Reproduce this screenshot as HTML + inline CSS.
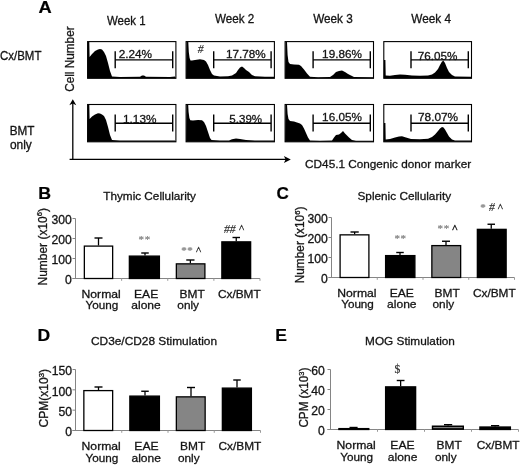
<!DOCTYPE html>
<html><head><meta charset="utf-8"><title>Figure</title>
<style>html,body{margin:0;padding:0;background:#fff}svg{display:block;will-change:transform;transform:translateZ(0)}</style></head>
<body><svg width="520" height="465" viewBox="0 0 520 465">
<rect width="520" height="465" fill="#fff"/>
<text transform="translate(38.54,12.50) scale(1.0755,1)" font-family='"Liberation Sans", Arial, Helvetica, sans-serif' font-size="17" font-weight="bold" fill="#000" stroke="#000" stroke-width="0.2">A</text>
<text transform="translate(-0.07,60.00) scale(0.9347,1)" font-family='"Liberation Sans", Arial, Helvetica, sans-serif' font-size="12.3" fill="#141414" stroke="#141414" stroke-width="0.3">Cx/BMT</text>
<text transform="translate(9.76,135.00) scale(0.9867,1)" font-family='"Liberation Sans", Arial, Helvetica, sans-serif' font-size="11.9" fill="#141414" stroke="#141414" stroke-width="0.3">BMT</text>
<text transform="translate(9.92,149.30) scale(1.0046,1)" font-family='"Liberation Sans", Arial, Helvetica, sans-serif' font-size="11.9" fill="#141414" stroke="#141414" stroke-width="0.3">only</text>
<text transform="translate(106.94,24.70) scale(0.9320,1)" font-family='"Liberation Sans", Arial, Helvetica, sans-serif' font-size="12.3" fill="#141414" stroke="#141414" stroke-width="0.3">Week 1</text>
<text transform="translate(215.04,22.70) scale(0.9467,1)" font-family='"Liberation Sans", Arial, Helvetica, sans-serif' font-size="12.3" fill="#141414" stroke="#141414" stroke-width="0.3">Week 2</text>
<text transform="translate(313.14,22.70) scale(0.9550,1)" font-family='"Liberation Sans", Arial, Helvetica, sans-serif' font-size="12.3" fill="#141414" stroke="#141414" stroke-width="0.3">Week 3</text>
<text transform="translate(411.24,22.70) scale(0.9581,1)" font-family='"Liberation Sans", Arial, Helvetica, sans-serif' font-size="12.3" fill="#141414" stroke="#141414" stroke-width="0.3">Week 4</text>
<text transform="translate(73.60,91.79) rotate(-90) scale(0.9581,1)" font-family='"Liberation Sans", Arial, Helvetica, sans-serif' font-size="12.3" fill="#141414" stroke="#141414" stroke-width="0.3">Cell Number</text>
<text transform="translate(305.11,167.70) scale(0.9983,1)" font-family='"Liberation Sans", Arial, Helvetica, sans-serif' font-size="11.8" fill="#141414" stroke="#141414" stroke-width="0.3">CD45.1 Congenic donor marker</text>
<line x1="72.80" y1="159.40" x2="72.80" y2="103.00" stroke="#000" stroke-width="1.3"/>
<polygon points="72.8,99.2 69.3,105.2 72.8,103.6 76.3,105.2" fill="#000"/>
<line x1="69.60" y1="159.40" x2="286.00" y2="159.40" stroke="#000" stroke-width="1.3"/>
<polygon points="290.8,159.4 283.9,155.9 285.6,159.4 283.9,162.9" fill="#000"/>
<polygon points="87.6,78.3 88.0,42.0 89.3,42.0 89.6,57.0 92.0,54.0 95.0,51.0 98.0,49.5 100.0,49.0 102.0,49.5 104.0,52.0 106.0,56.0 108.0,63.0 110.0,71.0 112.0,76.5 120.0,77.0 140.0,76.8 142.0,75.6 144.0,75.6 146.0,76.8 170.0,77.0 175.0,76.6 175.9,78.3" fill="#000"/>
<polygon points="186.1,78.3 186.5,42.0 188.3,42.0 188.8,52.0 189.6,58.0 190.5,60.5 192.0,60.5 195.0,60.0 200.0,59.3 204.0,60.0 206.0,61.5 208.0,65.0 210.0,70.0 212.0,74.0 214.0,75.5 220.0,76.5 228.0,76.2 232.0,75.5 236.0,73.0 238.0,70.0 240.0,67.5 242.0,66.6 244.0,68.0 246.0,70.0 249.0,72.0 252.0,75.0 255.0,76.3 265.0,76.8 274.0,76.8 274.4,78.3" fill="#000"/>
<polygon points="285.1,78.3 285.5,42.0 287.0,42.0 287.6,55.0 288.5,62.0 290.0,64.0 294.0,64.5 299.0,64.8 301.0,66.0 304.0,69.5 307.0,73.5 310.0,76.8 318.0,77.2 330.0,77.0 333.0,75.0 336.0,72.0 339.0,71.0 342.0,70.6 345.0,72.0 348.0,74.0 351.0,75.5 354.0,77.0 373.0,77.2 373.5,78.3" fill="#000"/>
<polygon points="383.8,78.3 384.0,60.0 385.4,60.0 385.7,75.5 390.0,75.8 395.0,75.0 400.0,74.5 405.0,74.8 412.0,75.6 420.0,75.8 428.0,75.4 432.0,74.5 435.0,72.5 438.0,69.0 440.0,65.0 442.0,61.5 443.5,60.8 445.0,63.0 447.0,68.0 449.0,72.0 452.0,75.0 455.0,76.6 471.0,76.8 471.5,78.3" fill="#000"/>
<polygon points="87.6,141.8 88.0,104.5 89.3,104.5 89.6,119.0 92.0,116.5 95.0,114.5 98.0,113.2 100.0,113.4 102.0,114.5 104.0,116.0 106.0,120.0 108.0,127.0 110.0,135.0 112.0,140.0 120.0,140.6 175.0,140.6 175.9,141.8" fill="#000"/>
<polygon points="186.1,141.8 186.5,105.0 188.2,105.0 188.6,112.0 189.4,118.0 190.3,120.2 193.0,120.4 198.0,120.0 202.0,120.2 204.0,122.0 206.0,126.0 208.0,132.0 210.0,138.0 211.5,140.0 220.0,140.6 229.0,140.4 232.0,139.2 236.0,138.6 240.0,139.0 246.0,140.0 255.0,140.6 274.0,140.6 274.4,141.8" fill="#000"/>
<polygon points="285.1,141.8 285.5,104.5 287.0,104.5 287.6,114.0 288.5,119.0 290.0,121.0 294.0,121.5 297.0,122.5 300.0,123.5 302.0,125.0 304.0,128.5 306.0,133.0 308.0,137.5 310.0,140.4 320.0,140.8 332.0,140.6 334.0,137.5 336.0,135.0 339.0,134.4 341.0,133.0 343.0,131.0 345.0,133.5 347.0,135.5 349.0,137.5 352.0,140.0 356.0,140.8 373.0,140.8 373.5,141.8" fill="#000"/>
<polygon points="383.8,141.8 384.0,123.0 385.4,123.0 385.7,139.5 390.0,139.0 395.0,137.5 399.0,136.4 402.0,136.2 406.0,137.5 411.0,139.0 420.0,139.2 428.0,138.8 432.0,137.0 435.0,134.5 438.0,131.0 440.0,128.5 442.0,127.0 443.5,127.4 445.0,129.5 447.0,133.0 449.0,136.5 452.0,139.5 455.0,140.6 471.0,140.6 471.5,141.8" fill="#000"/>
<rect x="87.60" y="41.60" width="88.30" height="36.70" fill="none" stroke="#000" stroke-width="1.1"/>
<rect x="186.10" y="41.60" width="88.30" height="36.70" fill="none" stroke="#000" stroke-width="1.1"/>
<rect x="285.10" y="41.60" width="88.40" height="36.70" fill="none" stroke="#000" stroke-width="1.1"/>
<rect x="383.80" y="41.60" width="87.70" height="36.70" fill="none" stroke="#000" stroke-width="1.1"/>
<rect x="87.60" y="104.50" width="88.30" height="37.30" fill="none" stroke="#000" stroke-width="1.1"/>
<rect x="186.10" y="104.50" width="88.30" height="37.30" fill="none" stroke="#000" stroke-width="1.1"/>
<rect x="285.10" y="104.50" width="88.40" height="37.30" fill="none" stroke="#000" stroke-width="1.1"/>
<rect x="383.80" y="104.50" width="87.70" height="37.30" fill="none" stroke="#000" stroke-width="1.1"/>
<line x1="115.20" y1="59.90" x2="172.70" y2="59.90" stroke="#000" stroke-width="1.4"/>
<line x1="115.20" y1="51.30" x2="115.20" y2="68.20" stroke="#000" stroke-width="1.4"/>
<line x1="172.70" y1="51.30" x2="172.70" y2="68.20" stroke="#000" stroke-width="1.4"/>
<line x1="213.70" y1="59.90" x2="271.10" y2="59.90" stroke="#000" stroke-width="1.4"/>
<line x1="213.70" y1="51.30" x2="213.70" y2="68.20" stroke="#000" stroke-width="1.4"/>
<line x1="271.10" y1="51.30" x2="271.10" y2="68.20" stroke="#000" stroke-width="1.4"/>
<line x1="313.10" y1="59.90" x2="370.30" y2="59.90" stroke="#000" stroke-width="1.4"/>
<line x1="313.10" y1="51.30" x2="313.10" y2="68.20" stroke="#000" stroke-width="1.4"/>
<line x1="370.30" y1="51.30" x2="370.30" y2="68.20" stroke="#000" stroke-width="1.4"/>
<line x1="411.00" y1="59.90" x2="468.30" y2="59.90" stroke="#000" stroke-width="1.4"/>
<line x1="411.00" y1="51.30" x2="411.00" y2="68.20" stroke="#000" stroke-width="1.4"/>
<line x1="468.30" y1="51.30" x2="468.30" y2="68.20" stroke="#000" stroke-width="1.4"/>
<line x1="115.20" y1="123.20" x2="172.70" y2="123.20" stroke="#000" stroke-width="1.4"/>
<line x1="115.20" y1="114.40" x2="115.20" y2="131.40" stroke="#000" stroke-width="1.4"/>
<line x1="172.70" y1="114.40" x2="172.70" y2="131.40" stroke="#000" stroke-width="1.4"/>
<line x1="213.70" y1="123.20" x2="271.10" y2="123.20" stroke="#000" stroke-width="1.4"/>
<line x1="213.70" y1="114.40" x2="213.70" y2="131.40" stroke="#000" stroke-width="1.4"/>
<line x1="271.10" y1="114.40" x2="271.10" y2="131.40" stroke="#000" stroke-width="1.4"/>
<line x1="313.10" y1="123.20" x2="370.30" y2="123.20" stroke="#000" stroke-width="1.4"/>
<line x1="313.10" y1="114.40" x2="313.10" y2="131.40" stroke="#000" stroke-width="1.4"/>
<line x1="370.30" y1="114.40" x2="370.30" y2="131.40" stroke="#000" stroke-width="1.4"/>
<line x1="411.00" y1="123.20" x2="468.30" y2="123.20" stroke="#000" stroke-width="1.4"/>
<line x1="411.00" y1="114.40" x2="411.00" y2="131.40" stroke="#000" stroke-width="1.4"/>
<line x1="468.30" y1="114.40" x2="468.30" y2="131.40" stroke="#000" stroke-width="1.4"/>
<text transform="translate(118.71,57.60) scale(1.0335,1)" font-family='"Liberation Sans", Arial, Helvetica, sans-serif' font-size="11.4" fill="#141414" stroke="#141414" stroke-width="0.3">2.24%</text>
<text transform="translate(226.02,57.70) scale(1.0281,1)" font-family='"Liberation Sans", Arial, Helvetica, sans-serif' font-size="11.4" fill="#141414" stroke="#141414" stroke-width="0.3">17.78%</text>
<text transform="translate(322.12,57.70) scale(1.0307,1)" font-family='"Liberation Sans", Arial, Helvetica, sans-serif' font-size="11.4" fill="#141414" stroke="#141414" stroke-width="0.3">19.86%</text>
<text transform="translate(417.82,59.80) scale(1.0256,1)" font-family='"Liberation Sans", Arial, Helvetica, sans-serif' font-size="11.4" fill="#141414" stroke="#141414" stroke-width="0.3">76.05%</text>
<text transform="translate(123.01,122.90) scale(1.0365,1)" font-family='"Liberation Sans", Arial, Helvetica, sans-serif' font-size="11.4" fill="#141414" stroke="#141414" stroke-width="0.3">1.13%</text>
<text transform="translate(229.34,122.90) scale(1.0139,1)" font-family='"Liberation Sans", Arial, Helvetica, sans-serif' font-size="11.4" fill="#141414" stroke="#141414" stroke-width="0.3">5.39%</text>
<text transform="translate(322.12,121.20) scale(1.0307,1)" font-family='"Liberation Sans", Arial, Helvetica, sans-serif' font-size="11.4" fill="#141414" stroke="#141414" stroke-width="0.3">16.05%</text>
<text transform="translate(418.01,121.20) scale(1.0389,1)" font-family='"Liberation Sans", Arial, Helvetica, sans-serif' font-size="11.4" fill="#141414" stroke="#141414" stroke-width="0.3">78.07%</text>
<text transform="translate(38.35,199.30) scale(1.0415,1)" font-family='"Liberation Sans", Arial, Helvetica, sans-serif' font-size="17" font-weight="bold" fill="#000" stroke="#000" stroke-width="0.2">B</text>
<text transform="translate(103.26,200.40) scale(0.9967,1)" font-family='"Liberation Sans", Arial, Helvetica, sans-serif' font-size="11.8" fill="#141414" stroke="#141414" stroke-width="0.3">Thymic Cellularity</text>
<line x1="75.50" y1="218.50" x2="75.50" y2="278.50" stroke="#858585" stroke-width="1"/>
<line x1="72.50" y1="278.50" x2="260.00" y2="278.50" stroke="#858585" stroke-width="1"/>
<line x1="72.50" y1="278.50" x2="75.50" y2="278.50" stroke="#858585" stroke-width="1"/>
<text transform="translate(65.02,284.20) scale(1.0000,1)" font-family='"Liberation Sans", Arial, Helvetica, sans-serif' font-size="12.2" fill="#141414" stroke="#141414" stroke-width="0.3">0</text>
<line x1="72.50" y1="258.50" x2="75.50" y2="258.50" stroke="#858585" stroke-width="1"/>
<text transform="translate(51.48,264.20) scale(1.0000,1)" font-family='"Liberation Sans", Arial, Helvetica, sans-serif' font-size="12.2" fill="#141414" stroke="#141414" stroke-width="0.3">100</text>
<line x1="72.50" y1="238.50" x2="75.50" y2="238.50" stroke="#858585" stroke-width="1"/>
<text transform="translate(51.47,244.20) scale(1.0000,1)" font-family='"Liberation Sans", Arial, Helvetica, sans-serif' font-size="12.2" fill="#141414" stroke="#141414" stroke-width="0.3">200</text>
<line x1="72.50" y1="218.50" x2="75.50" y2="218.50" stroke="#858585" stroke-width="1"/>
<text transform="translate(51.47,224.20) scale(1.0000,1)" font-family='"Liberation Sans", Arial, Helvetica, sans-serif' font-size="12.2" fill="#141414" stroke="#141414" stroke-width="0.3">300</text>
<line x1="121.62" y1="278.50" x2="121.62" y2="280.80" stroke="#999" stroke-width="1"/>
<line x1="167.75" y1="278.50" x2="167.75" y2="280.80" stroke="#999" stroke-width="1"/>
<line x1="213.88" y1="278.50" x2="213.88" y2="280.80" stroke="#999" stroke-width="1"/>
<line x1="260.00" y1="278.50" x2="260.00" y2="280.80" stroke="#999" stroke-width="1"/>
<line x1="98.50" y1="238.00" x2="98.50" y2="245.50" stroke="#000" stroke-width="1.3"/>
<line x1="94.50" y1="238.00" x2="102.50" y2="238.00" stroke="#000" stroke-width="1.4"/>
<rect x="84.35" y="246.10" width="28.30" height="32.40" fill="#fff" stroke="#000" stroke-width="1.3"/>
<line x1="145.00" y1="253.00" x2="145.00" y2="255.50" stroke="#000" stroke-width="1.3"/>
<line x1="141.25" y1="253.00" x2="148.75" y2="253.00" stroke="#000" stroke-width="1.4"/>
<rect x="129.35" y="256.10" width="30.05" height="22.40" fill="#000" stroke="#000" stroke-width="1.3"/>
<line x1="190.38" y1="260.00" x2="190.38" y2="263.25" stroke="#000" stroke-width="1.3"/>
<line x1="186.25" y1="260.00" x2="194.50" y2="260.00" stroke="#000" stroke-width="1.4"/>
<rect x="176.35" y="263.85" width="28.55" height="14.65" fill="#858585" stroke="#000" stroke-width="1.3"/>
<line x1="236.25" y1="237.50" x2="236.25" y2="241.25" stroke="#000" stroke-width="1.3"/>
<line x1="232.50" y1="237.50" x2="240.00" y2="237.50" stroke="#000" stroke-width="1.4"/>
<rect x="221.85" y="241.85" width="28.80" height="36.65" fill="#000" stroke="#000" stroke-width="1.3"/>
<text transform="translate(276.62,199.40) scale(1.0058,1)" font-family='"Liberation Sans", Arial, Helvetica, sans-serif' font-size="17" font-weight="bold" fill="#000" stroke="#000" stroke-width="0.2">C</text>
<text transform="translate(357.47,200.30) scale(0.9998,1)" font-family='"Liberation Sans", Arial, Helvetica, sans-serif' font-size="11.8" fill="#141414" stroke="#141414" stroke-width="0.3">Splenic Cellularity</text>
<line x1="331.50" y1="217.50" x2="331.50" y2="277.50" stroke="#858585" stroke-width="1"/>
<line x1="328.50" y1="277.50" x2="514.50" y2="277.50" stroke="#858585" stroke-width="1"/>
<line x1="328.50" y1="277.50" x2="331.50" y2="277.50" stroke="#858585" stroke-width="1"/>
<text transform="translate(321.02,283.20) scale(1.0000,1)" font-family='"Liberation Sans", Arial, Helvetica, sans-serif' font-size="12.2" fill="#141414" stroke="#141414" stroke-width="0.3">0</text>
<line x1="328.50" y1="257.50" x2="331.50" y2="257.50" stroke="#858585" stroke-width="1"/>
<text transform="translate(307.47,263.20) scale(1.0000,1)" font-family='"Liberation Sans", Arial, Helvetica, sans-serif' font-size="12.2" fill="#141414" stroke="#141414" stroke-width="0.3">100</text>
<line x1="328.50" y1="237.50" x2="331.50" y2="237.50" stroke="#858585" stroke-width="1"/>
<text transform="translate(307.48,243.20) scale(1.0000,1)" font-family='"Liberation Sans", Arial, Helvetica, sans-serif' font-size="12.2" fill="#141414" stroke="#141414" stroke-width="0.3">200</text>
<line x1="328.50" y1="217.50" x2="331.50" y2="217.50" stroke="#858585" stroke-width="1"/>
<text transform="translate(307.48,223.20) scale(1.0000,1)" font-family='"Liberation Sans", Arial, Helvetica, sans-serif' font-size="12.2" fill="#141414" stroke="#141414" stroke-width="0.3">300</text>
<line x1="377.25" y1="277.50" x2="377.25" y2="279.80" stroke="#999" stroke-width="1"/>
<line x1="423.00" y1="277.50" x2="423.00" y2="279.80" stroke="#999" stroke-width="1"/>
<line x1="468.75" y1="277.50" x2="468.75" y2="279.80" stroke="#999" stroke-width="1"/>
<line x1="514.50" y1="277.50" x2="514.50" y2="279.80" stroke="#999" stroke-width="1"/>
<line x1="354.62" y1="232.00" x2="354.62" y2="234.25" stroke="#000" stroke-width="1.3"/>
<line x1="350.50" y1="232.00" x2="358.75" y2="232.00" stroke="#000" stroke-width="1.4"/>
<rect x="340.10" y="234.85" width="28.80" height="42.65" fill="#fff" stroke="#000" stroke-width="1.3"/>
<line x1="400.00" y1="252.50" x2="400.00" y2="255.00" stroke="#000" stroke-width="1.3"/>
<line x1="396.25" y1="252.50" x2="403.75" y2="252.50" stroke="#000" stroke-width="1.4"/>
<rect x="385.60" y="255.60" width="29.30" height="21.90" fill="#000" stroke="#000" stroke-width="1.3"/>
<line x1="446.00" y1="241.25" x2="446.00" y2="245.00" stroke="#000" stroke-width="1.3"/>
<line x1="442.00" y1="241.25" x2="450.00" y2="241.25" stroke="#000" stroke-width="1.4"/>
<rect x="431.85" y="245.60" width="28.80" height="31.90" fill="#858585" stroke="#000" stroke-width="1.3"/>
<line x1="491.25" y1="224.25" x2="491.25" y2="228.75" stroke="#000" stroke-width="1.3"/>
<line x1="487.50" y1="224.25" x2="495.00" y2="224.25" stroke="#000" stroke-width="1.4"/>
<rect x="477.35" y="229.35" width="28.80" height="48.15" fill="#000" stroke="#000" stroke-width="1.3"/>
<text transform="translate(37.46,340.50) scale(1.0330,1)" font-family='"Liberation Sans", Arial, Helvetica, sans-serif' font-size="17" font-weight="bold" fill="#000" stroke="#000" stroke-width="0.2">D</text>
<text transform="translate(91.01,345.10) scale(1.0073,1)" font-family='"Liberation Sans", Arial, Helvetica, sans-serif' font-size="11.8" fill="#141414" stroke="#141414" stroke-width="0.3">CD3e/CD28 Stimulation</text>
<line x1="75.50" y1="369.50" x2="75.50" y2="430.50" stroke="#858585" stroke-width="1"/>
<line x1="72.50" y1="430.50" x2="260.50" y2="430.50" stroke="#858585" stroke-width="1"/>
<line x1="72.50" y1="430.50" x2="75.50" y2="430.50" stroke="#858585" stroke-width="1"/>
<text transform="translate(65.32,436.20) scale(1.0000,1)" font-family='"Liberation Sans", Arial, Helvetica, sans-serif' font-size="12.2" fill="#141414" stroke="#141414" stroke-width="0.3">0</text>
<line x1="72.50" y1="410.17" x2="75.50" y2="410.17" stroke="#858585" stroke-width="1"/>
<text transform="translate(58.55,415.87) scale(1.0000,1)" font-family='"Liberation Sans", Arial, Helvetica, sans-serif' font-size="12.2" fill="#141414" stroke="#141414" stroke-width="0.3">50</text>
<line x1="72.50" y1="389.83" x2="75.50" y2="389.83" stroke="#858585" stroke-width="1"/>
<text transform="translate(51.77,395.53) scale(1.0000,1)" font-family='"Liberation Sans", Arial, Helvetica, sans-serif' font-size="12.2" fill="#141414" stroke="#141414" stroke-width="0.3">100</text>
<line x1="72.50" y1="369.50" x2="75.50" y2="369.50" stroke="#858585" stroke-width="1"/>
<text transform="translate(51.77,375.20) scale(1.0000,1)" font-family='"Liberation Sans", Arial, Helvetica, sans-serif' font-size="12.2" fill="#141414" stroke="#141414" stroke-width="0.3">150</text>
<line x1="121.75" y1="430.50" x2="121.75" y2="432.80" stroke="#999" stroke-width="1"/>
<line x1="168.00" y1="430.50" x2="168.00" y2="432.80" stroke="#999" stroke-width="1"/>
<line x1="214.25" y1="430.50" x2="214.25" y2="432.80" stroke="#999" stroke-width="1"/>
<line x1="260.50" y1="430.50" x2="260.50" y2="432.80" stroke="#999" stroke-width="1"/>
<line x1="98.50" y1="387.00" x2="98.50" y2="390.00" stroke="#000" stroke-width="1.3"/>
<line x1="94.50" y1="387.00" x2="102.50" y2="387.00" stroke="#000" stroke-width="1.4"/>
<rect x="83.85" y="390.60" width="28.80" height="39.90" fill="#fff" stroke="#000" stroke-width="1.3"/>
<line x1="145.00" y1="391.25" x2="145.00" y2="395.50" stroke="#000" stroke-width="1.3"/>
<line x1="141.25" y1="391.25" x2="148.75" y2="391.25" stroke="#000" stroke-width="1.4"/>
<rect x="129.85" y="396.10" width="29.55" height="34.40" fill="#000" stroke="#000" stroke-width="1.3"/>
<line x1="191.00" y1="387.50" x2="191.00" y2="396.25" stroke="#000" stroke-width="1.3"/>
<line x1="187.00" y1="387.50" x2="195.00" y2="387.50" stroke="#000" stroke-width="1.4"/>
<rect x="176.35" y="396.85" width="28.80" height="33.65" fill="#858585" stroke="#000" stroke-width="1.3"/>
<line x1="237.00" y1="380.00" x2="237.00" y2="387.50" stroke="#000" stroke-width="1.3"/>
<line x1="233.25" y1="380.00" x2="240.75" y2="380.00" stroke="#000" stroke-width="1.4"/>
<rect x="222.35" y="388.10" width="29.05" height="42.40" fill="#000" stroke="#000" stroke-width="1.3"/>
<text transform="translate(275.36,340.60) scale(1.0307,1)" font-family='"Liberation Sans", Arial, Helvetica, sans-serif' font-size="17" font-weight="bold" fill="#000" stroke="#000" stroke-width="0.2">E</text>
<text transform="translate(365.05,345.10) scale(1.0013,1)" font-family='"Liberation Sans", Arial, Helvetica, sans-serif' font-size="11.8" fill="#141414" stroke="#141414" stroke-width="0.3">MOG Stimulation</text>
<line x1="330.50" y1="369.50" x2="330.50" y2="429.50" stroke="#858585" stroke-width="1"/>
<line x1="327.50" y1="429.50" x2="518.50" y2="429.50" stroke="#858585" stroke-width="1"/>
<line x1="327.50" y1="429.50" x2="330.50" y2="429.50" stroke="#858585" stroke-width="1"/>
<text transform="translate(318.02,435.20) scale(1.0000,1)" font-family='"Liberation Sans", Arial, Helvetica, sans-serif' font-size="12.2" fill="#141414" stroke="#141414" stroke-width="0.3">0</text>
<line x1="327.50" y1="409.50" x2="330.50" y2="409.50" stroke="#858585" stroke-width="1"/>
<text transform="translate(311.25,415.20) scale(1.0000,1)" font-family='"Liberation Sans", Arial, Helvetica, sans-serif' font-size="12.2" fill="#141414" stroke="#141414" stroke-width="0.3">20</text>
<line x1="327.50" y1="389.50" x2="330.50" y2="389.50" stroke="#858585" stroke-width="1"/>
<text transform="translate(311.25,395.20) scale(1.0000,1)" font-family='"Liberation Sans", Arial, Helvetica, sans-serif' font-size="12.2" fill="#141414" stroke="#141414" stroke-width="0.3">40</text>
<line x1="327.50" y1="369.50" x2="330.50" y2="369.50" stroke="#858585" stroke-width="1"/>
<text transform="translate(311.25,375.20) scale(1.0000,1)" font-family='"Liberation Sans", Arial, Helvetica, sans-serif' font-size="12.2" fill="#141414" stroke="#141414" stroke-width="0.3">60</text>
<line x1="377.50" y1="429.50" x2="377.50" y2="431.80" stroke="#999" stroke-width="1"/>
<line x1="424.50" y1="429.50" x2="424.50" y2="431.80" stroke="#999" stroke-width="1"/>
<line x1="471.50" y1="429.50" x2="471.50" y2="431.80" stroke="#999" stroke-width="1"/>
<line x1="518.50" y1="429.50" x2="518.50" y2="431.80" stroke="#999" stroke-width="1"/>
<line x1="353.55" y1="427.50" x2="353.55" y2="428.00" stroke="#000" stroke-width="1.3"/>
<line x1="349.50" y1="427.50" x2="357.60" y2="427.50" stroke="#000" stroke-width="1.4"/>
<rect x="338.90" y="428.60" width="29.90" height="0.90" fill="#000" stroke="#000" stroke-width="1.3"/>
<line x1="400.62" y1="380.50" x2="400.62" y2="386.25" stroke="#000" stroke-width="1.3"/>
<line x1="396.75" y1="380.50" x2="404.50" y2="380.50" stroke="#000" stroke-width="1.4"/>
<rect x="385.60" y="386.85" width="30.05" height="42.65" fill="#000" stroke="#000" stroke-width="1.3"/>
<line x1="448.10" y1="424.70" x2="448.10" y2="425.50" stroke="#000" stroke-width="1.3"/>
<line x1="444.00" y1="424.70" x2="452.20" y2="424.70" stroke="#000" stroke-width="1.4"/>
<rect x="431.80" y="425.50" width="32.20" height="4.40" fill="#000" stroke="none" stroke-width="0"/>
<line x1="433.20" y1="427.60" x2="462.60" y2="427.60" stroke="#858585" stroke-width="1.1"/>
<line x1="495.10" y1="425.70" x2="495.10" y2="426.40" stroke="#000" stroke-width="1.3"/>
<line x1="491.00" y1="425.70" x2="499.20" y2="425.70" stroke="#000" stroke-width="1.4"/>
<rect x="479.90" y="427.00" width="30.50" height="2.50" fill="#000" stroke="#000" stroke-width="1.3"/>
<text transform="translate(46.60,285.46) rotate(-90) scale(0.9740,1)" font-family='"Liberation Sans", Arial, Helvetica, sans-serif' font-size="12.3" fill="#141414" stroke="#141414" stroke-width="0.3">Number (x10<tspan font-size="7.9" dy="-4.2">6</tspan><tspan dy="4.2">)</tspan></text>
<text transform="translate(303.90,283.35) rotate(-90) scale(0.9650,1)" font-family='"Liberation Sans", Arial, Helvetica, sans-serif' font-size="12.3" fill="#141414" stroke="#141414" stroke-width="0.3">Number (x10<tspan font-size="7.9" dy="-4.2">6</tspan><tspan dy="4.2">)</tspan></text>
<text transform="translate(47.80,427.60) rotate(-90) scale(0.9835,1)" font-family='"Liberation Sans", Arial, Helvetica, sans-serif' font-size="12.3" fill="#141414" stroke="#141414" stroke-width="0.3">CPM(x10<tspan font-size="7.9" dy="-4.2">3</tspan><tspan dy="4.2">)</tspan></text>
<text transform="translate(307.70,427.58) rotate(-90) scale(0.9502,1)" font-family='"Liberation Sans", Arial, Helvetica, sans-serif' font-size="12.3" fill="#141414" stroke="#141414" stroke-width="0.3">CPM (x10<tspan font-size="7.9" dy="-4.2">3</tspan><tspan dy="4.2">)</tspan></text>
<text transform="translate(81.52,297.70) scale(1.0335,1)" font-family='"Liberation Sans", Arial, Helvetica, sans-serif' font-size="11.8" fill="#141414" stroke="#141414" stroke-width="0.3">Normal</text>
<text transform="translate(85.51,309.00) scale(0.9913,1)" font-family='"Liberation Sans", Arial, Helvetica, sans-serif' font-size="11.8" fill="#141414" stroke="#141414" stroke-width="0.3">Young</text>
<text transform="translate(134.03,297.70) scale(1.0278,1)" font-family='"Liberation Sans", Arial, Helvetica, sans-serif' font-size="11.8" fill="#141414" stroke="#141414" stroke-width="0.3">EAE</text>
<text transform="translate(131.26,309.00) scale(1.0220,1)" font-family='"Liberation Sans", Arial, Helvetica, sans-serif' font-size="11.8" fill="#141414" stroke="#141414" stroke-width="0.3">alone</text>
<text transform="translate(179.54,297.70) scale(1.0119,1)" font-family='"Liberation Sans", Arial, Helvetica, sans-serif' font-size="11.8" fill="#141414" stroke="#141414" stroke-width="0.3">BMT</text>
<text transform="translate(177.33,309.00) scale(1.0037,1)" font-family='"Liberation Sans", Arial, Helvetica, sans-serif' font-size="11.8" fill="#141414" stroke="#141414" stroke-width="0.3">only</text>
<text transform="translate(217.91,297.70) scale(1.0055,1)" font-family='"Liberation Sans", Arial, Helvetica, sans-serif' font-size="11.8" fill="#141414" stroke="#141414" stroke-width="0.3">Cx/BMT</text>
<text transform="translate(337.27,296.50) scale(1.0335,1)" font-family='"Liberation Sans", Arial, Helvetica, sans-serif' font-size="11.8" fill="#141414" stroke="#141414" stroke-width="0.3">Normal</text>
<text transform="translate(341.16,308.00) scale(0.9913,1)" font-family='"Liberation Sans", Arial, Helvetica, sans-serif' font-size="11.8" fill="#141414" stroke="#141414" stroke-width="0.3">Young</text>
<text transform="translate(389.63,296.50) scale(1.0278,1)" font-family='"Liberation Sans", Arial, Helvetica, sans-serif' font-size="11.8" fill="#141414" stroke="#141414" stroke-width="0.3">EAE</text>
<text transform="translate(387.06,308.00) scale(1.0220,1)" font-family='"Liberation Sans", Arial, Helvetica, sans-serif' font-size="11.8" fill="#141414" stroke="#141414" stroke-width="0.3">alone</text>
<text transform="translate(434.54,296.50) scale(1.0119,1)" font-family='"Liberation Sans", Arial, Helvetica, sans-serif' font-size="11.8" fill="#141414" stroke="#141414" stroke-width="0.3">BMT</text>
<text transform="translate(432.53,308.00) scale(1.0037,1)" font-family='"Liberation Sans", Arial, Helvetica, sans-serif' font-size="11.8" fill="#141414" stroke="#141414" stroke-width="0.3">only</text>
<text transform="translate(472.91,296.50) scale(1.0055,1)" font-family='"Liberation Sans", Arial, Helvetica, sans-serif' font-size="11.8" fill="#141414" stroke="#141414" stroke-width="0.3">Cx/BMT</text>
<text transform="translate(81.57,450.00) scale(1.0335,1)" font-family='"Liberation Sans", Arial, Helvetica, sans-serif' font-size="11.8" fill="#141414" stroke="#141414" stroke-width="0.3">Normal</text>
<text transform="translate(85.56,461.60) scale(0.9913,1)" font-family='"Liberation Sans", Arial, Helvetica, sans-serif' font-size="11.8" fill="#141414" stroke="#141414" stroke-width="0.3">Young</text>
<text transform="translate(134.33,450.00) scale(1.0278,1)" font-family='"Liberation Sans", Arial, Helvetica, sans-serif' font-size="11.8" fill="#141414" stroke="#141414" stroke-width="0.3">EAE</text>
<text transform="translate(131.46,461.60) scale(1.0220,1)" font-family='"Liberation Sans", Arial, Helvetica, sans-serif' font-size="11.8" fill="#141414" stroke="#141414" stroke-width="0.3">alone</text>
<text transform="translate(180.04,450.00) scale(1.0119,1)" font-family='"Liberation Sans", Arial, Helvetica, sans-serif' font-size="11.8" fill="#141414" stroke="#141414" stroke-width="0.3">BMT</text>
<text transform="translate(177.93,461.60) scale(1.0037,1)" font-family='"Liberation Sans", Arial, Helvetica, sans-serif' font-size="11.8" fill="#141414" stroke="#141414" stroke-width="0.3">only</text>
<text transform="translate(218.51,450.00) scale(1.0055,1)" font-family='"Liberation Sans", Arial, Helvetica, sans-serif' font-size="11.8" fill="#141414" stroke="#141414" stroke-width="0.3">Cx/BMT</text>
<text transform="translate(336.57,449.00) scale(1.0335,1)" font-family='"Liberation Sans", Arial, Helvetica, sans-serif' font-size="11.8" fill="#141414" stroke="#141414" stroke-width="0.3">Normal</text>
<text transform="translate(340.36,461.00) scale(0.9913,1)" font-family='"Liberation Sans", Arial, Helvetica, sans-serif' font-size="11.8" fill="#141414" stroke="#141414" stroke-width="0.3">Young</text>
<text transform="translate(390.33,449.00) scale(1.0278,1)" font-family='"Liberation Sans", Arial, Helvetica, sans-serif' font-size="11.8" fill="#141414" stroke="#141414" stroke-width="0.3">EAE</text>
<text transform="translate(387.86,461.00) scale(1.0220,1)" font-family='"Liberation Sans", Arial, Helvetica, sans-serif' font-size="11.8" fill="#141414" stroke="#141414" stroke-width="0.3">alone</text>
<text transform="translate(436.54,449.00) scale(1.0119,1)" font-family='"Liberation Sans", Arial, Helvetica, sans-serif' font-size="11.8" fill="#141414" stroke="#141414" stroke-width="0.3">BMT</text>
<text transform="translate(434.93,461.00) scale(1.0037,1)" font-family='"Liberation Sans", Arial, Helvetica, sans-serif' font-size="11.8" fill="#141414" stroke="#141414" stroke-width="0.3">only</text>
<text transform="translate(476.71,449.00) scale(1.0055,1)" font-family='"Liberation Sans", Arial, Helvetica, sans-serif' font-size="11.8" fill="#141414" stroke="#141414" stroke-width="0.3">Cx/BMT</text>
<text x="138.55" y="242.71" font-family='"Liberation Serif", "Times New Roman", serif' font-size="11" fill="#8a8a8a" stroke="#8a8a8a" stroke-width="0.25" letter-spacing="0.65">**</text>
<text x="181.15" y="253.81" font-family='"Liberation Serif", "Times New Roman", serif' font-size="11" fill="#8a8a8a" stroke="#8a8a8a" stroke-width="0.25" letter-spacing="0.65">**</text>
<text x="195.94" y="254.01" font-family='"Liberation Serif", "Times New Roman", serif' font-size="11" fill="#2a2a2a" stroke="#2a2a2a" stroke-width="0.3">^</text>
<text x="223.98" y="232.63" font-family='"Liberation Serif", "Times New Roman", serif' font-size="11.5" fill="#2a2a2a" stroke="#2a2a2a" stroke-width="0.15" font-style="italic">##</text>
<text x="238.94" y="232.31" font-family='"Liberation Serif", "Times New Roman", serif' font-size="11" fill="#2a2a2a" stroke="#2a2a2a" stroke-width="0.3">^</text>
<text x="394.45" y="242.31" font-family='"Liberation Serif", "Times New Roman", serif' font-size="11" fill="#8a8a8a" stroke="#8a8a8a" stroke-width="0.25" letter-spacing="0.65">**</text>
<text x="437.55" y="231.91" font-family='"Liberation Serif", "Times New Roman", serif' font-size="11" fill="#8a8a8a" stroke="#8a8a8a" stroke-width="0.25" letter-spacing="0.65">**</text>
<text x="452.23" y="232.21" font-family='"Liberation Serif", "Times New Roman", serif' font-size="11" fill="#2a2a2a" stroke="#2a2a2a" stroke-width="0.5">^</text>
<text x="480.15" y="210.61" font-family='"Liberation Serif", "Times New Roman", serif' font-size="11" fill="#8a8a8a" stroke="#8a8a8a" stroke-width="0.25">*</text>
<text x="488.99" y="211.33" font-family='"Liberation Serif", "Times New Roman", serif' font-size="11.5" fill="#2a2a2a" stroke="#2a2a2a" stroke-width="0.15" font-style="italic">#</text>
<text x="497.83" y="211.01" font-family='"Liberation Serif", "Times New Roman", serif' font-size="11" fill="#2a2a2a" stroke="#2a2a2a" stroke-width="0.3">^</text>
<text x="394.48" y="372.98" font-family='"Liberation Serif", "Times New Roman", serif' font-size="11.5" fill="#2a2a2a" stroke="#2a2a2a" stroke-width="0.15">$</text>
<text x="197.78" y="53.43" font-family='"Liberation Serif", "Times New Roman", serif' font-size="11.5" fill="#2a2a2a" stroke="#2a2a2a" stroke-width="0.15" font-style="italic">#</text>
</svg></body></html>
